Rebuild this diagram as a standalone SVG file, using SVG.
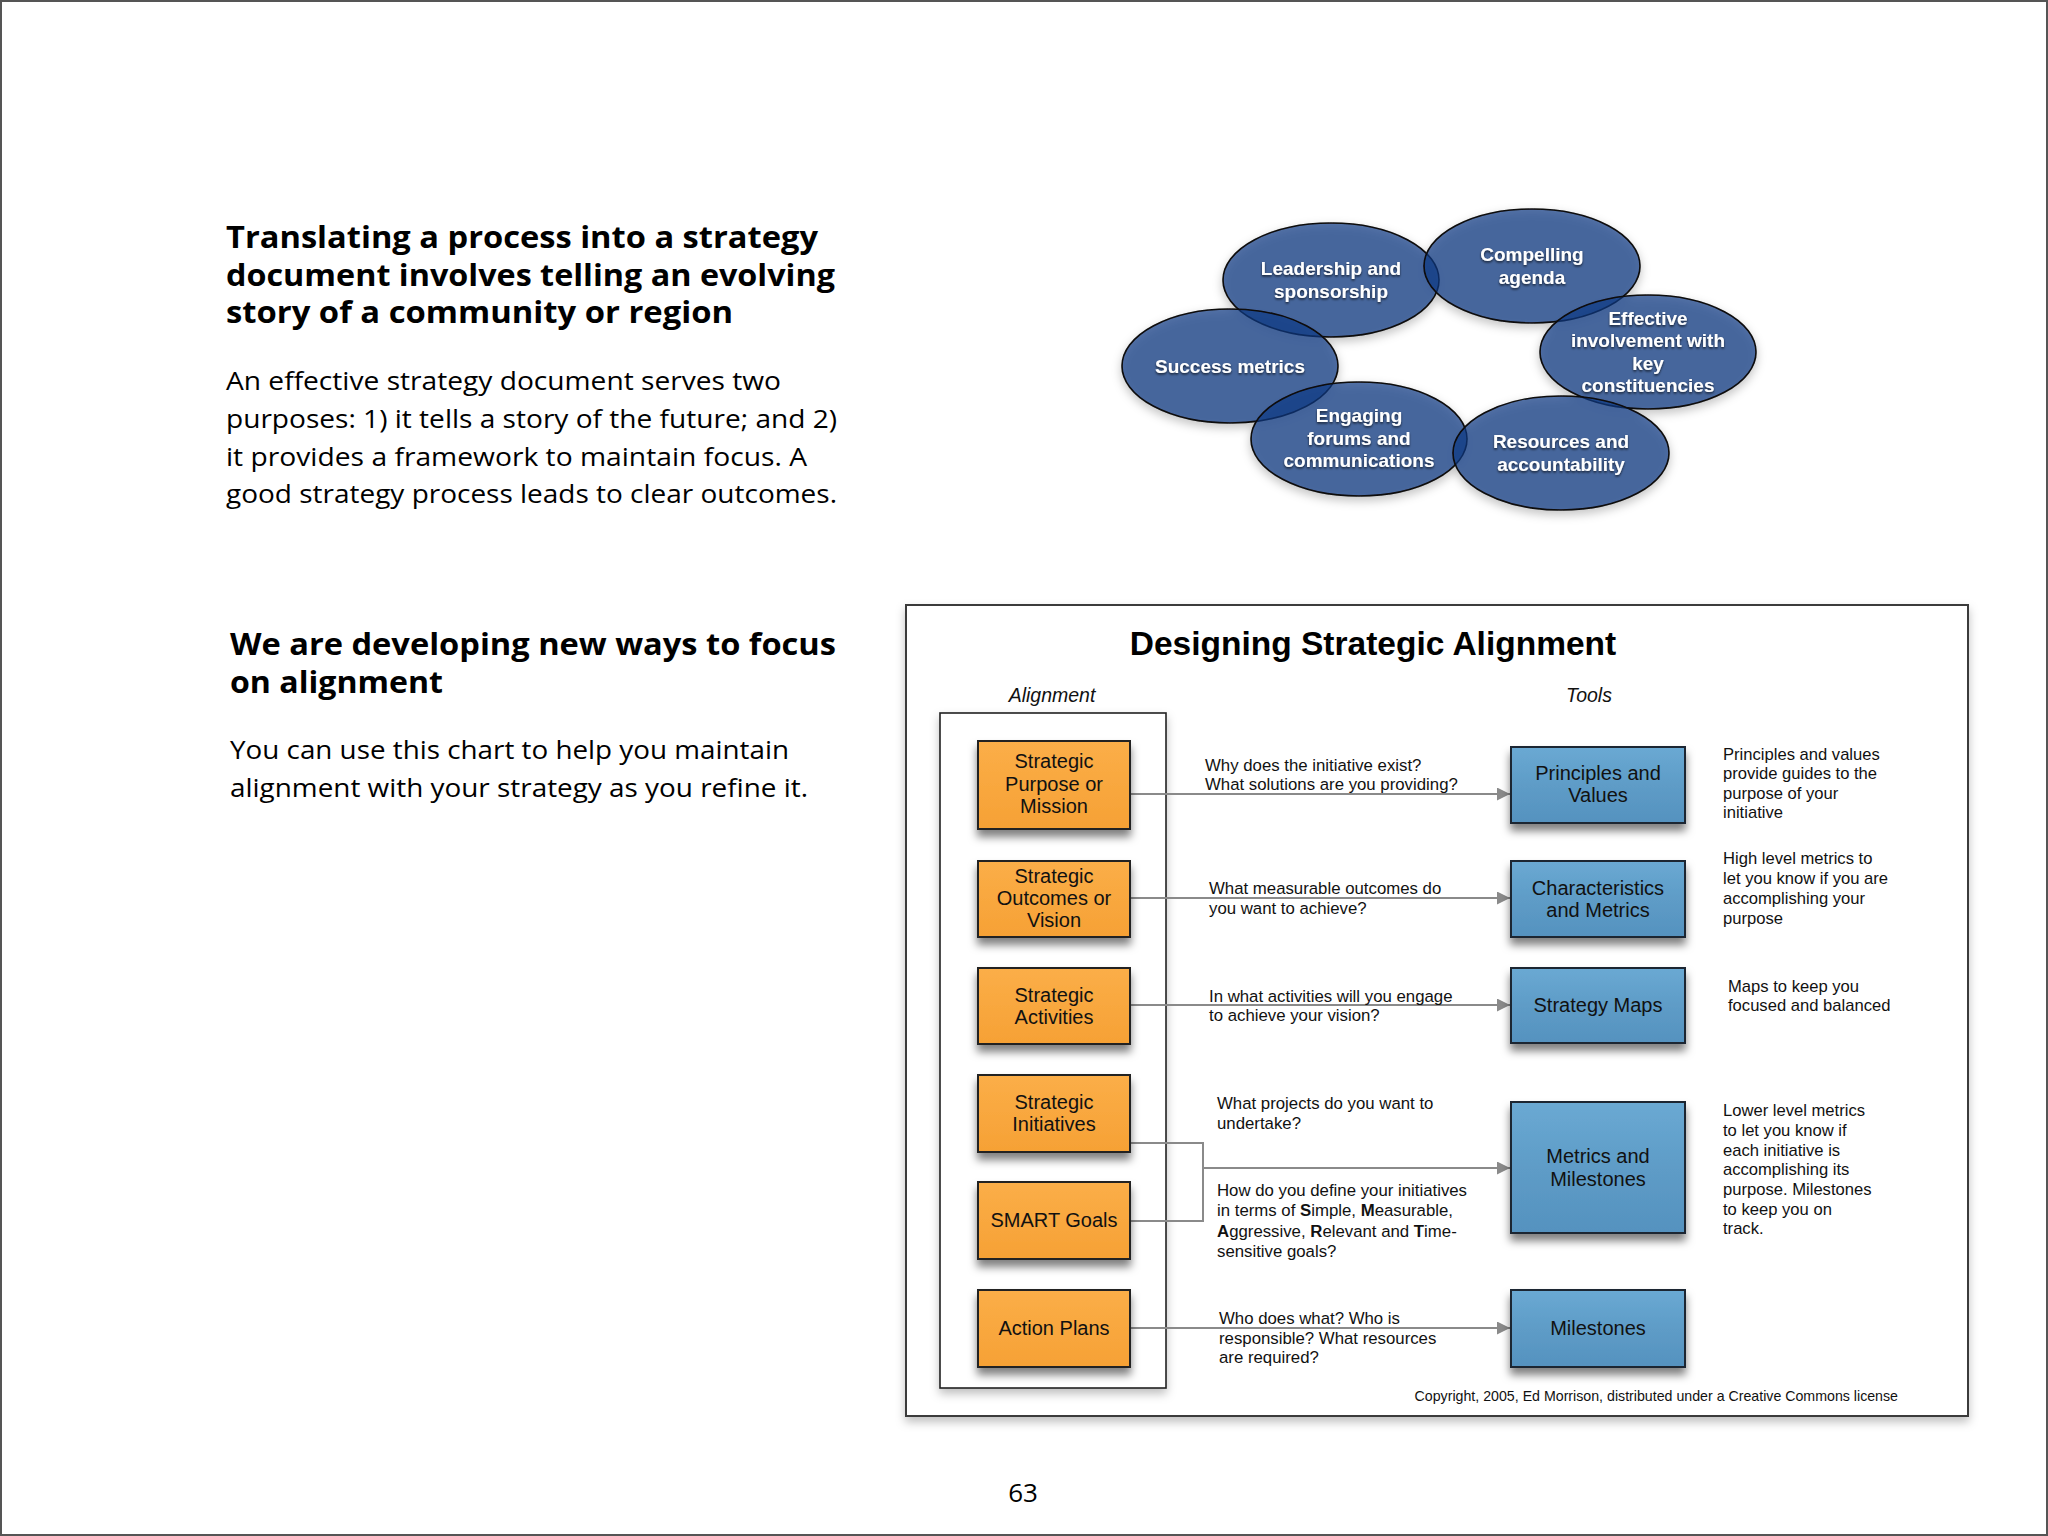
<svg xmlns="http://www.w3.org/2000/svg" width="2048" height="1536" viewBox="0 0 2048 1536">
<defs>
<style>
.hd{font-family:"Open Sans","DejaVu Sans",sans-serif;font-weight:bold;font-size:30px;fill:#000}
.bd{font-family:"Open Sans","DejaVu Sans",sans-serif;font-size:26px;fill:#000}
.el{font-family:"Liberation Sans",Arial,sans-serif;font-weight:bold;font-size:19px;fill:#fff;text-anchor:middle}
.bx{font-family:"Liberation Sans",Arial,sans-serif;font-size:20px;fill:#111;text-anchor:middle}
.q{font-family:"Liberation Sans",Arial,sans-serif;font-size:16.8px;fill:#111}
.d{font-family:"Liberation Sans",Arial,sans-serif;font-size:16.6px;fill:#111}
.ell{fill:#103b85;fill-opacity:0.71;stroke:#0a0a0a;stroke-width:1.6}
.org{fill:url(#og);stroke:#222;stroke-width:2}
.blu{fill:url(#bg);stroke:#1c2530;stroke-width:2}
.ar{fill:none;stroke:#8a8a8a;stroke-width:2}
</style>
<linearGradient id="og" x1="0" y1="0" x2="0" y2="1">
<stop offset="0" stop-color="#fbae48"/><stop offset="1" stop-color="#f6a135"/>
</linearGradient>
<linearGradient id="bg" x1="0" y1="0" x2="0" y2="1">
<stop offset="0" stop-color="#6aa9d3"/><stop offset="0.5" stop-color="#5e9cc7"/><stop offset="1" stop-color="#5592bf"/>
</linearGradient>
<filter id="sh" x="-20%" y="-20%" width="140%" height="150%">
<feDropShadow dx="0" dy="7" stdDeviation="4" flood-color="#000" flood-opacity="0.5"/>
</filter>
<filter id="sh2" x="-5%" y="-5%" width="110%" height="110%">
<feDropShadow dx="0" dy="5" stdDeviation="5" flood-color="#000" flood-opacity="0.25"/>
</filter>
<filter id="esh" x="-20%" y="-20%" width="140%" height="150%">
<feDropShadow dx="0" dy="4" stdDeviation="5" flood-color="#000" flood-opacity="0.3"/>
</filter>
<filter id="tsh" x="-10%" y="-30%" width="120%" height="160%">
<feDropShadow dx="0" dy="1.5" stdDeviation="1.2" flood-color="#000" flood-opacity="0.7"/>
</filter>
<marker id="ah" viewBox="0 0 10 10" refX="10" refY="5" markerWidth="6.5" markerHeight="6.5" markerUnits="strokeWidth" orient="auto">
<path d="M0,0 L10,5 L0,10 z" fill="#8a8a8a"/>
</marker>
</defs>

<rect x="0" y="0" width="2048" height="1536" fill="#fff"/>
<rect x="1" y="1" width="2046" height="1534" fill="none" stroke="#555" stroke-width="2"/>

<!-- Left text -->
<g id="intro-text">
<text class="hd" x="226" y="248" textLength="592" lengthAdjust="spacingAndGlyphs">Translating a process into a strategy</text>
<text class="hd" x="226" y="286" textLength="609" lengthAdjust="spacingAndGlyphs">document involves telling an evolving</text>
<text class="hd" x="226" y="323" textLength="507" lengthAdjust="spacingAndGlyphs">story of a community or region</text>
<text class="bd" x="226" y="390" textLength="555" lengthAdjust="spacingAndGlyphs">An effective strategy document serves two</text>
<text class="bd" x="226" y="428" textLength="611" lengthAdjust="spacingAndGlyphs">purposes: 1) it tells a story of the future; and 2)</text>
<text class="bd" x="226" y="466" textLength="581" lengthAdjust="spacingAndGlyphs">it provides a framework to maintain focus.  A</text>
<text class="bd" x="226" y="503" textLength="611" lengthAdjust="spacingAndGlyphs">good strategy process leads to clear outcomes.</text>
</g>
<g id="alignment-text">
<text class="hd" x="230" y="655" textLength="606" lengthAdjust="spacingAndGlyphs">We are developing new ways to focus</text>
<text class="hd" x="230" y="693" textLength="213" lengthAdjust="spacingAndGlyphs">on alignment</text>
<text class="bd" x="230" y="759" textLength="559" lengthAdjust="spacingAndGlyphs">You can use this chart to help you maintain</text>
<text class="bd" x="230" y="797" textLength="578" lengthAdjust="spacingAndGlyphs">alignment with your strategy as you refine it.</text>
</g>
<text id="page-number" x="1023" y="1502" text-anchor="middle" font-family="Open Sans, DejaVu Sans, sans-serif" font-size="26" fill="#000">63</text>

<!-- Ellipse cluster -->
<g id="ellipses" filter="url(#esh)">
<ellipse id="e-leadership" class="ell" cx="1331" cy="280" rx="108" ry="57"/>
<ellipse id="e-compelling" class="ell" cx="1532" cy="266" rx="108" ry="57"/>
<ellipse id="e-effective" class="ell" cx="1648" cy="352" rx="108" ry="57"/>
<ellipse id="e-success" class="ell" cx="1230" cy="366" rx="108" ry="57"/>
<ellipse id="e-engaging" class="ell" cx="1359" cy="439" rx="108" ry="57"/>
<ellipse id="e-resources" class="ell" cx="1561" cy="453" rx="108" ry="57"/>
</g>
<g id="ellipse-labels" filter="url(#tsh)">
<text class="el" x="1331" y="275">Leadership and</text>
<text class="el" x="1331" y="298">sponsorship</text>
<text class="el" x="1532" y="261">Compelling</text>
<text class="el" x="1532" y="284">agenda</text>
<text class="el" x="1648" y="325">Effective</text>
<text class="el" x="1648" y="347">involvement with</text>
<text class="el" x="1648" y="370">key</text>
<text class="el" x="1648" y="392">constituencies</text>
<text class="el" x="1230" y="373">Success metrics</text>
<text class="el" x="1359" y="422">Engaging</text>
<text class="el" x="1359" y="445">forums and</text>
<text class="el" x="1359" y="467">communications</text>
<text class="el" x="1561" y="448">Resources and</text>
<text class="el" x="1561" y="471">accountability</text>
</g>

<!-- Diagram frame -->
<g id="frame">
<rect x="906" y="605" width="1062" height="811" fill="#fff" stroke="#3a3a3a" stroke-width="2" filter="url(#sh2)"/>
<text x="1373" y="655" text-anchor="middle" font-family="Liberation Sans, Arial, sans-serif" font-weight="bold" font-size="33.5" fill="#000">Designing Strategic Alignment</text>
<text x="1052" y="702" text-anchor="middle" font-family="Liberation Sans, Arial, sans-serif" font-style="italic" font-size="19.5" fill="#111">Alignment</text>
<text x="1589" y="702" text-anchor="middle" font-family="Liberation Sans, Arial, sans-serif" font-style="italic" font-size="19.5" fill="#111">Tools</text>
<rect x="940" y="713" width="226" height="675" fill="#fff" stroke="#222" stroke-width="1.6" filter="url(#sh2)"/>
<text x="1898" y="1401" text-anchor="end" font-family="Liberation Sans, Arial, sans-serif" font-size="14.2" fill="#111">Copyright, 2005, Ed Morrison, distributed under a Creative Commons license</text>
</g>

<!-- Connectors -->
<g id="connectors">
<path class="ar" d="M1131,794 H1510" marker-end="url(#ah)"/>
<path class="ar" d="M1131,898 H1510" marker-end="url(#ah)"/>
<path class="ar" d="M1131,1005 H1510" marker-end="url(#ah)"/>
<path class="ar" d="M1131,1143 H1203 V1221 H1131"/>
<path class="ar" d="M1203,1168 H1510" marker-end="url(#ah)"/>
<path class="ar" d="M1131,1328 H1510" marker-end="url(#ah)"/>
</g>

<!-- Alignment nodes -->
<g id="n-purpose">
<rect class="org" x="978" y="741" width="152" height="88" filter="url(#sh)"/>
<text class="bx" x="1054" y="768">Strategic</text>
<text class="bx" x="1054" y="791">Purpose or</text>
<text class="bx" x="1054" y="813">Mission</text>
</g>
<g id="n-outcomes">
<rect class="org" x="978" y="861" width="152" height="76" filter="url(#sh)"/>
<text class="bx" x="1054" y="883">Strategic</text>
<text class="bx" x="1054" y="905">Outcomes or</text>
<text class="bx" x="1054" y="927">Vision</text>
</g>
<g id="n-activities">
<rect class="org" x="978" y="968" width="152" height="76" filter="url(#sh)"/>
<text class="bx" x="1054" y="1002">Strategic</text>
<text class="bx" x="1054" y="1024">Activities</text>
</g>
<g id="n-initiatives">
<rect class="org" x="978" y="1075" width="152" height="77" filter="url(#sh)"/>
<text class="bx" x="1054" y="1109">Strategic</text>
<text class="bx" x="1054" y="1131">Initiatives</text>
</g>
<g id="n-smart">
<rect class="org" x="978" y="1182" width="152" height="77" filter="url(#sh)"/>
<text class="bx" x="1054" y="1227">SMART Goals</text>
</g>
<g id="n-action">
<rect class="org" x="978" y="1290" width="152" height="77" filter="url(#sh)"/>
<text class="bx" x="1054" y="1335">Action Plans</text>
</g>

<!-- Tool nodes -->
<g id="t-principles">
<rect class="blu" x="1511" y="747" width="174" height="76" filter="url(#sh)"/>
<text class="bx" x="1598" y="780">Principles and</text>
<text class="bx" x="1598" y="802">Values</text>
</g>
<g id="t-characteristics">
<rect class="blu" x="1511" y="861" width="174" height="76" filter="url(#sh)"/>
<text class="bx" x="1598" y="895">Characteristics</text>
<text class="bx" x="1598" y="917">and Metrics</text>
</g>
<g id="t-maps">
<rect class="blu" x="1511" y="968" width="174" height="75" filter="url(#sh)"/>
<text class="bx" x="1598" y="1012">Strategy Maps</text>
</g>
<g id="t-metrics">
<rect class="blu" x="1511" y="1102" width="174" height="131" filter="url(#sh)"/>
<text class="bx" x="1598" y="1163">Metrics and</text>
<text class="bx" x="1598" y="1186">Milestones</text>
</g>
<g id="t-milestones">
<rect class="blu" x="1511" y="1290" width="174" height="77" filter="url(#sh)"/>
<text class="bx" x="1598" y="1335">Milestones</text>
</g>

<!-- Questions -->
<g id="questions">
<text class="q" x="1205" y="771">Why does the initiative exist?</text>
<text class="q" x="1205" y="790">What solutions are you providing?</text>
<text class="q" x="1209" y="894">What measurable outcomes do</text>
<text class="q" x="1209" y="914">you want to achieve?</text>
<text class="q" x="1209" y="1002">In what activities will you engage</text>
<text class="q" x="1209" y="1021">to achieve your vision?</text>
<text class="q" x="1217" y="1109">What projects do you want to</text>
<text class="q" x="1217" y="1129">undertake?</text>
<text class="q" x="1217" y="1196">How do you define your initiatives</text>
<text class="q" x="1217" y="1216">in terms of <tspan font-weight="bold">S</tspan>imple, <tspan font-weight="bold">M</tspan>easurable,</text>
<text class="q" x="1217" y="1237"><tspan font-weight="bold">A</tspan>ggressive, <tspan font-weight="bold">R</tspan>elevant and <tspan font-weight="bold">T</tspan>ime-</text>
<text class="q" x="1217" y="1257">sensitive goals?</text>
<text class="q" x="1219" y="1324">Who does what? Who is</text>
<text class="q" x="1219" y="1344">responsible? What resources</text>
<text class="q" x="1219" y="1363">are required?</text>
</g>

<!-- Descriptions -->
<g id="descriptions">
<text class="d" x="1723" y="760">Principles and values</text>
<text class="d" x="1723" y="779">provide guides to the</text>
<text class="d" x="1723" y="799">purpose of your</text>
<text class="d" x="1723" y="818">initiative</text>
<text class="d" x="1723" y="864">High level metrics to</text>
<text class="d" x="1723" y="884">let you know if you are</text>
<text class="d" x="1723" y="904">accomplishing your</text>
<text class="d" x="1723" y="924">purpose</text>
<text class="d" x="1728" y="992">Maps to keep you</text>
<text class="d" x="1728" y="1011">focused and balanced</text>
<text class="d" x="1723" y="1116">Lower level metrics</text>
<text class="d" x="1723" y="1136">to let you know if</text>
<text class="d" x="1723" y="1156">each initiative is</text>
<text class="d" x="1723" y="1175">accomplishing its</text>
<text class="d" x="1723" y="1195">purpose. Milestones</text>
<text class="d" x="1723" y="1215">to keep you on</text>
<text class="d" x="1723" y="1234">track.</text>
</g>
</svg>
